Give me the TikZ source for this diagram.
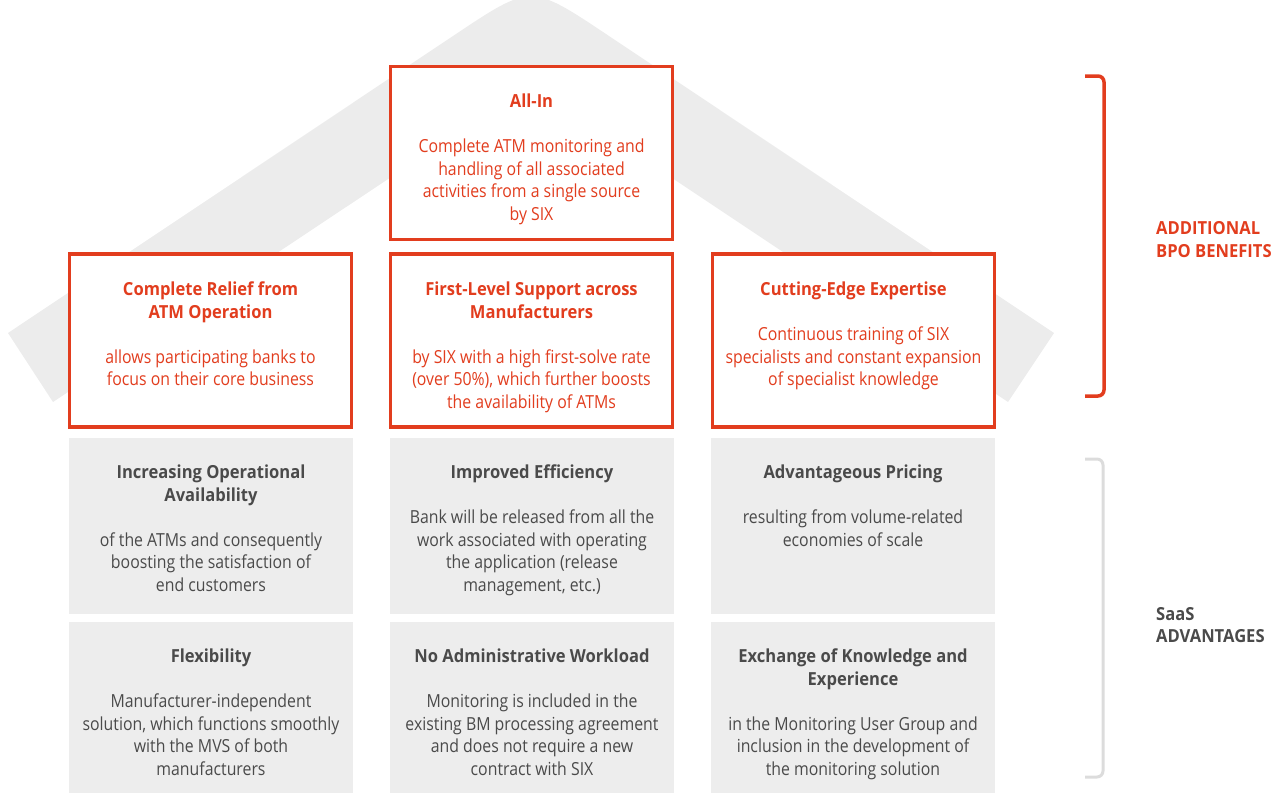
\documentclass[tikz,border=0pt]{standalone}
\usepackage{fontspec}
\setmainfont{Open Sans}[FakeStretch=0.88,BoldFeatures={FakeStretch=0.92}]
\definecolor{sixred}{HTML}{E23D1E}
\definecolor{rooffill}{HTML}{ECECEC}
\definecolor{boxfill}{HTML}{EDEDED}
\definecolor{darktext}{HTML}{4A4A4A}
\definecolor{brgrey}{HTML}{DCDCDC}
\begin{document}
\begin{tikzpicture}[x=1pt,y=-1pt,
  redbox/.style={draw=sixred,line width=3.5pt,fill=white,minimum width=282pt,minimum height=173pt,inner sep=0pt},
  greybox/.style={fill=boxfill,minimum width=284pt,inner sep=0pt},
  txt/.style={anchor=north,align=center,inner sep=0pt,font=\fontsize{18}{22.5}\selectfont},
  redtxt/.style={txt,text=sixred},
  greytxt/.style={txt,text=darktext},
  sidelabel/.style={anchor=west,align=left,inner sep=0pt,font=\fontsize{18}{22.5}\selectfont\bfseries}
]
\useasboundingbox (0,0) rectangle (1280,793);
% roof
\fill[rooffill] (8,333) -- (456,34) .. controls (531,-16) .. (606,34) -- (1054,333) -- (1008,402) -- (531,84) -- (53,402) -- cycle;
% red boxes
\node[redbox] (allin) at (531.5,153) {};
\node[redbox] (relief) at (210.5,340.5) {};
\node[redbox] (support) at (531.5,340.5) {};
\node[redbox] (expert) at (853.5,340.5) {};
% grey boxes
\node[greybox,minimum height=176pt] (avail) at (211,526) {};
\node[greybox,minimum height=176pt] (effic) at (532,526) {};
\node[greybox,minimum height=176pt] (pricing) at (853,526) {};
\node[greybox,minimum height=171pt] (flex) at (211,707.5) {};
\node[greybox,minimum height=171pt] (noadmin) at (532,707.5) {};
\node[greybox,minimum height=171pt] (exchange) at (853,707.5) {};
% texts
\node[redtxt] (allin-t) at (531.5,94) {\textbf{All-In}\\[22.5pt]Complete ATM monitoring and\\handling of all associated\\activities from a single source\\by SIX};
\node[redtxt] (relief-t) at (210.5,282) {\textbf{Complete Relief from}\\\textbf{ATM Operation}\\[22.5pt]allows participating banks to\\focus on their core business};
\node[redtxt] (support-t) at (531.5,282) {\textbf{First-Level Support across}\\\textbf{Manufacturers}\\[22.5pt]by SIX with a high first-solve rate\\(over 50\%), which further boosts\\the availability of ATMs};
\node[redtxt] (expert-t) at (853.5,282) {\textbf{Cutting-Edge Expertise}\\[22.5pt]Continuous training of SIX\\specialists and constant expansion\\of specialist knowledge};
\node[greytxt] (avail-t) at (211,465) {\textbf{Increasing Operational}\\\textbf{Availability}\\[22.5pt]of the ATMs and consequently\\boosting the satisfaction of\\end customers};
\node[greytxt] (effic-t) at (532,465) {\textbf{Improved Efficiency}\\[22.5pt]Bank will be released from all the\\work associated with operating\\the application (release\\management, etc.)};
\node[greytxt] (pricing-t) at (853,465) {\textbf{Advantageous Pricing}\\[22.5pt]resulting from volume-related\\economies of scale};
\node[greytxt] (flex-t) at (211,649) {\textbf{Flexibility}\\[22.5pt]Manufacturer-independent\\solution, which functions smoothly\\with the MVS of both\\manufacturers};
\node[greytxt] (noadmin-t) at (532,649) {\textbf{No Administrative Workload}\\[22.5pt]Monitoring is included in the\\existing BM processing agreement\\and does not require a new\\contract with SIX};
\node[greytxt] (exchange-t) at (853,649) {\textbf{Exchange of Knowledge and}\\\textbf{Experience}\\[22.5pt]in the Monitoring User Group and\\inclusion in the development of\\the monitoring solution};
% brackets
\draw[sixred,line width=3.5pt,rounded corners=6pt] (1085,76) -- (1104,76) -- (1104,396) -- (1085,396);
\draw[brgrey,line width=3pt,rounded corners=6pt] (1085,459) -- (1103,459) -- (1103,777) -- (1085,777);
% side labels
\node[sidelabel,text=sixred] (bpo) at (1156,239.5) {ADDITIONAL\\BPO BENEFITS};
\node[sidelabel,text=darktext] (saas) at (1156,625) {SaaS\\ADVANTAGES};
\end{tikzpicture}
\end{document}
